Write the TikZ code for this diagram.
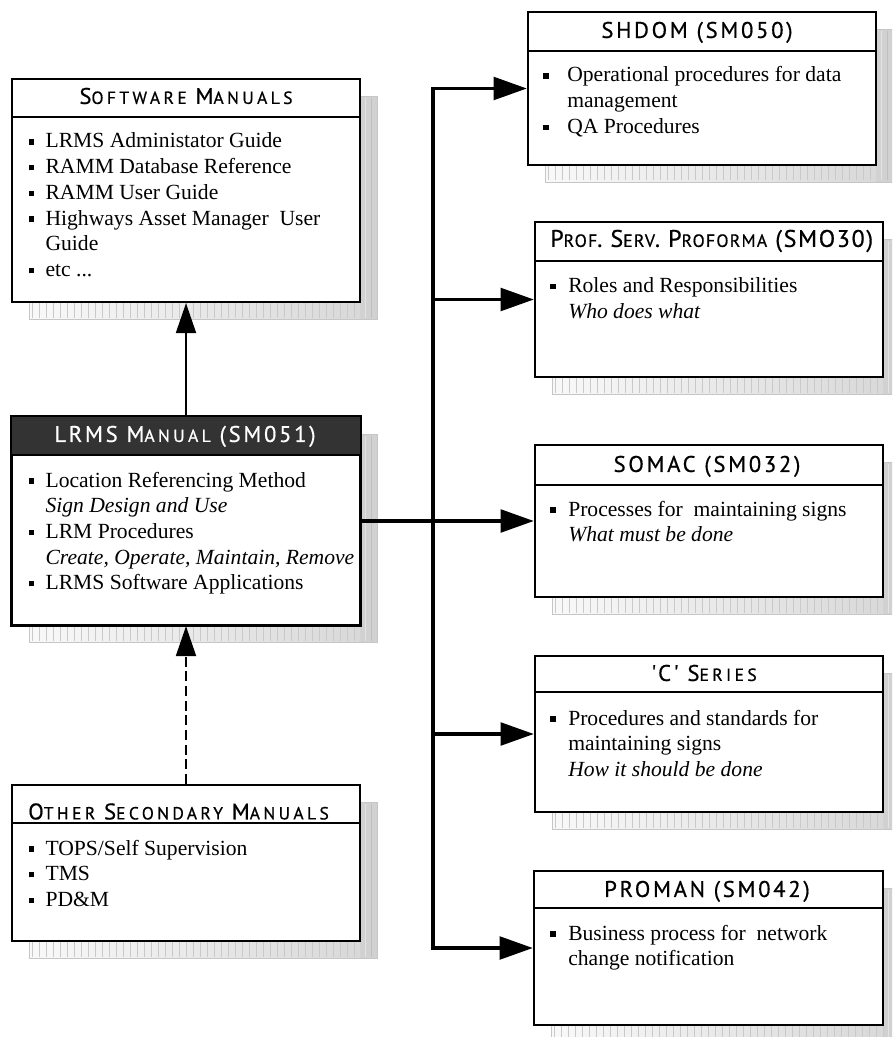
\documentclass[tikz,border=0pt]{standalone}
\usepackage{fontspec}
\setmainfont{Liberation Serif}
\newfontfamily\capf[LetterSpace=12,FakeBold=0.6]{PT Sans}
\newfontfamily\scf[LetterSpace=19,FakeBold=0.6]{PT Sans}
\newfontfamily\capb[LetterSpace=7,FakeBold=0.6]{PT Sans}
\usetikzlibrary{arrows.meta,fit,calc}
\definecolor{titlebg}{HTML}{333333}
\newcommand\bodyfont{\fontsize{16.2pt}{19.3pt}\selectfont}
\newcommand\bul[1][12.75pt]{\makebox[#1][l]{\raisebox{2.6pt}{\rule{4pt}{4pt}}}}
\newcommand\ind[1][12.75pt]{\hspace*{#1}}
\newcommand\lst[1]{\begin{minipage}[t]{320pt}\bodyfont\raggedright #1\end{minipage}}
\newcommand\bigc[1]{{\capf\fontsize{17pt}{17pt}\selectfont #1}}
\newcommand\smc[1]{{\scf\fontsize{13.2pt}{13pt}\selectfont #1}}
\newcommand\smb[1]{{\capb\fontsize{13.3pt}{13pt}\selectfont #1}}
\newcommand\shad[4]{%
  \pgfmathsetmacro\sxa{#1+17}\pgfmathsetmacro\sya{#2+17}%
  \pgfmathsetmacro\sxb{#3+17}\pgfmathsetmacro\syb{#4+17}%
  \fill[gray!36] (#3,\sya) rectangle (\sxb,\syb);
  \shade[left color=gray!5, right color=gray!30] (\sxa,#4) rectangle (#3,\syb);
  \pgfmathsetmacro\la{\sxa+3}\pgfmathsetmacro\lb{\sxa+10}%
  \foreach \q in {\la,\lb,...,#3} \draw[gray!42, line width=0.45pt] (\q,#4) -- (\q,\syb-1.5);
  \draw[gray!22, line width=0.6pt] (#3+5,\sya+2) -- (#3+5,\syb-1.5);
  \draw[gray!50, line width=0.5pt] (#3+11,\sya+2) -- (#3+11,\syb-1.5);
  \draw[gray!45, line width=0.6pt] (#3,\sya) -- (\sxb,\sya) -- (\sxb,\syb) -- (\sxa,\syb) -- (\sxa,#4);
}
\tikzset{
  box/.style={draw=black, line width=1.7pt, fill=white, inner sep=0pt},
  sep/.style={line width=1.2pt},
  ttl/.style={font=\capf\fontsize{17pt}{17pt}\selectfont, inner sep=0pt, text height=11.9pt, text depth=0pt},
  txt/.style={anchor=base west, inner sep=0pt},
  conn/.style={line width=2.7pt, -{Triangle[length=25pt,width=17pt]}},
  trunk/.style={line width=2.7pt, line cap=rect},
  up/.style={line width=1.6pt, -{Triangle[length=22.5pt,width=15pt]}},
  dashup/.style={up, dash pattern=on 7.5pt off 3.5pt},
}
\begin{document}
\begin{tikzpicture}[x=0.75pt,y=-0.75pt]
\useasboundingbox (0,0) rectangle (892,1037);
\clip (0,0) rectangle (892,1037);
% shadows
\shad{12}{79}{360}{302}
\shad{12}{417}{360}{625}
\shad{12}{785}{360}{941}
\shad{528}{12}{876}{165}
\shad{535}{222}{883}{377}
\shad{535}{445}{883}{597}
\shad{535}{656}{883}{812}
\shad{534}{871}{883}{1025}
% boxes
\node[box, fit={(12,79)(360,302)}] (sw) {};
\node[box, fit={(12,417)(360,625)}] (lrms) {};
\node[box, fit={(12,785)(360,941)}] (oth) {};
\node[box, fit={(528,12)(876,165)}] (shdom) {};
\node[box, fit={(535,222)(883,377)}] (prof) {};
\node[box, fit={(535,445)(883,597)}] (somac) {};
\node[box, fit={(535,656)(883,812)}] (cser) {};
\node[box, fit={(534,871)(883,1025)}] (proman) {};
\fill[titlebg] (12,417) rectangle (360,455);
\draw[line width=1.7pt] (lrms.north west) rectangle (lrms.south east);
% separators
\draw[sep] (12,117) -- (360,117);
\draw[sep] (12,455) -- (360,455);
\draw[sep] (12,823) -- (360,823);
\draw[sep] (528,51) -- (876,51);
\draw[sep] (535,261) -- (883,261);
\draw[sep] (535,485) -- (883,485);
\draw[sep] (535,692) -- (883,692);
\draw[sep] (534,908) -- (883,908);
% titles
\node[ttl] (swt) at (186,96) {\bigc{S}\smc{OFTWARE} \bigc{M}\smc{ANUALS}};
\node[ttl, text=white] (lrmst) at (185,434) {LRMS \bigc{M}\smc{ANUAL} (SM051)};
\node[ttl, anchor=west] (otht) at (28,811.5) {\bigc{O}\smc{THER} \bigc{S}\smc{ECONDARY} \bigc{M}\smc{ANUALS}};
\node[ttl] (shdomt) at (697,30) {SHDOM (SM050)};
\node[ttl, anchor=west, font=\capb\fontsize{18pt}{18pt}\selectfont, text height=12.6pt] (proft) at (550,238.5) {P\smb{ROF}. S\smb{ERV}. P\smb{ROFORMA} (SMO30)};
\node[ttl] (somact) at (707,464) {SOMAC (SM032)};
\node[ttl] (csert) at (704,673) {'C' \bigc{S}\smc{ERIES}};
\node[ttl] (promant) at (707,889) {PROMAN (SM042)};
% bodies
\node[txt] (swb) at (28.3,148) {\lst{\bul LRMS Administator Guide\\
\bul RAMM Database Reference\\
\bul RAMM User Guide\\
\bul Highways Asset Manager\ \ User\\
\ind Guide\\
\bul etc ...}};
\node[txt] (lrmsb) at (28.3,487) {\lst{\bul Location Referencing Method\\
\ind\textit{Sign Design and Use}\\
\bul LRM Procedures\\
\ind\textit{Create, Operate, Maintain, Remove}\\
\bul LRMS Software Applications}};
\node[txt] (othb) at (28.3,855) {\lst{\bul TOPS/Self Supervision\\
\bul TMS\\
\bul PD\&M}};
\node[txt] (shdomb) at (543,82) {\lst{\bul[18pt]Operational procedures for data\\
\ind[18pt]management\\
\bul[18pt]QA Procedures}};
\node[txt] (profb) at (550,292.7) {\lst{\bul[13.5pt]Roles and Responsibilities\\
\ind[13.5pt]\textit{Who does what}}};
\node[txt] (somacb) at (550,516) {\lst{\bul[13.5pt]Processes for\ \ maintaining signs\\
\ind[13.5pt]\textit{What must be done}}};
\node[txt] (cserb) at (550,725) {\lst{\bul[13.5pt]Procedures and standards for\\
\ind[13.5pt]maintaining signs\\
\ind[13.5pt]\textit{How it should be done}}};
\node[txt] (promanb) at (550,940) {\lst{\bul[13.5pt]Business process for\ \ network\\
\ind[13.5pt]change notification}};
% connectors
\draw[up] (lrms.north) -- (sw.south);
\draw[dashup] (oth.north) -- (lrms.south);
\path (433,0) coordinate (tx);
\draw[trunk] (tx |- shdom.west) -- (tx |- proman.west);
\draw[conn] (tx |- shdom.west) -- (shdom.west);
\draw[conn] (tx |- prof.west) -- (prof.west);
\draw[conn] (lrms.east) -- (somac.west);
\draw[conn] (tx |- cser.west) -- (cser.west);
\draw[conn] (tx |- proman.west) -- (proman.west);
\end{tikzpicture}
\end{document}
